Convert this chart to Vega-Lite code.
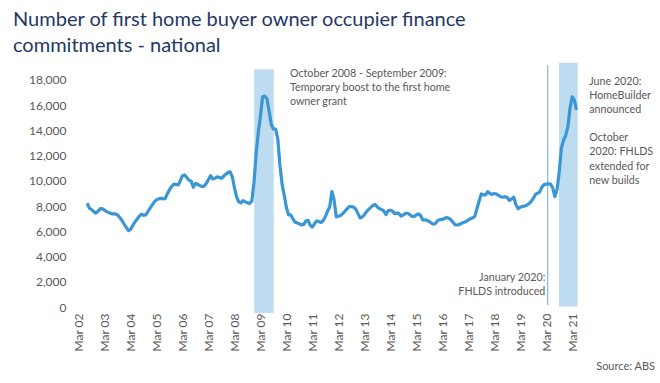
{
  "$schema": "https://vega.github.io/schema/vega-lite/v6.json",
  "width": 513,
  "height": 240,
  "autosize": {"type": "none"},
  "padding": {"left": 70, "top": 69, "right": 77, "bottom": 74},
  "background": "white",
  "data": {"values": [{}]},
  "config": {
    "view": {"stroke": null},
    "font": "Lato",
    "axis": {"grid": false, "domain": false, "ticks": false, "labelFont": "Lato", "labelFontSize": 12, "labelColor": "#595959", "labelOverlap": false}
  },
  "title": {
    "text": ["Number of first home buyer owner occupier finance", "commitments - national"],
    "anchor": "start",
    "frame": "group",
    "dx": -57,
    "offset": 7,
    "font": "Lato",
    "fontSize": 20,
    "fontWeight": "normal",
    "color": "#1F3864",
    "lineHeight": 25.5
  },
  "datasets": {
    "fhb": [
      {"date": "2002-07-01", "value": 8220}, {"date": "2002-08-01", "value": 7830}, {"date": "2002-09-01", "value": 7720}, {"date": "2002-10-01", "value": 7560}, {"date": "2002-11-01", "value": 7440}, {"date": "2002-12-01", "value": 7600},
      {"date": "2003-01-01", "value": 7800}, {"date": "2003-02-01", "value": 7780}, {"date": "2003-03-01", "value": 7680}, {"date": "2003-04-01", "value": 7560}, {"date": "2003-05-01", "value": 7480}, {"date": "2003-06-01", "value": 7400}, {"date": "2003-07-01", "value": 7375}, {"date": "2003-08-01", "value": 7375}, {"date": "2003-09-01", "value": 7290}, {"date": "2003-10-01", "value": 7090}, {"date": "2003-11-01", "value": 6870}, {"date": "2003-12-01", "value": 6580},
      {"date": "2004-01-01", "value": 6300}, {"date": "2004-02-01", "value": 6050}, {"date": "2004-03-01", "value": 6150}, {"date": "2004-04-01", "value": 6460}, {"date": "2004-05-01", "value": 6740}, {"date": "2004-06-01", "value": 6960}, {"date": "2004-07-01", "value": 7190}, {"date": "2004-08-01", "value": 7360}, {"date": "2004-09-01", "value": 7270}, {"date": "2004-10-01", "value": 7300}, {"date": "2004-11-01", "value": 7560}, {"date": "2004-12-01", "value": 7830},
      {"date": "2005-01-01", "value": 8090}, {"date": "2005-02-01", "value": 8350}, {"date": "2005-03-01", "value": 8490}, {"date": "2005-04-01", "value": 8570}, {"date": "2005-05-01", "value": 8610}, {"date": "2005-06-01", "value": 8570}, {"date": "2005-07-01", "value": 8580}, {"date": "2005-08-01", "value": 8980}, {"date": "2005-09-01", "value": 9300}, {"date": "2005-10-01", "value": 9550}, {"date": "2005-11-01", "value": 9740}, {"date": "2005-12-01", "value": 9710},
      {"date": "2006-01-01", "value": 9680}, {"date": "2006-02-01", "value": 10030}, {"date": "2006-03-01", "value": 10400}, {"date": "2006-04-01", "value": 10460}, {"date": "2006-05-01", "value": 10260}, {"date": "2006-06-01", "value": 10050}, {"date": "2006-07-01", "value": 9970}, {"date": "2006-08-01", "value": 9490}, {"date": "2006-09-01", "value": 9790}, {"date": "2006-10-01", "value": 9720}, {"date": "2006-11-01", "value": 9620}, {"date": "2006-12-01", "value": 9540},
      {"date": "2007-01-01", "value": 9580}, {"date": "2007-02-01", "value": 9800}, {"date": "2007-03-01", "value": 10100}, {"date": "2007-04-01", "value": 10400}, {"date": "2007-05-01", "value": 10150}, {"date": "2007-06-01", "value": 10200}, {"date": "2007-07-01", "value": 10310}, {"date": "2007-08-01", "value": 10260}, {"date": "2007-09-01", "value": 10200}, {"date": "2007-10-01", "value": 10360}, {"date": "2007-11-01", "value": 10530}, {"date": "2007-12-01", "value": 10650},
      {"date": "2008-01-01", "value": 10710}, {"date": "2008-02-01", "value": 10300}, {"date": "2008-03-01", "value": 9450}, {"date": "2008-04-01", "value": 8700}, {"date": "2008-05-01", "value": 8340}, {"date": "2008-06-01", "value": 8260}, {"date": "2008-07-01", "value": 8430}, {"date": "2008-08-01", "value": 8330}, {"date": "2008-09-01", "value": 8250}, {"date": "2008-10-01", "value": 8210}, {"date": "2008-11-01", "value": 8400}, {"date": "2008-12-01", "value": 9870},
      {"date": "2009-01-01", "value": 12200}, {"date": "2009-02-01", "value": 13900}, {"date": "2009-03-01", "value": 15100}, {"date": "2009-04-01", "value": 16650}, {"date": "2009-05-01", "value": 16700}, {"date": "2009-06-01", "value": 16500}, {"date": "2009-07-01", "value": 15540}, {"date": "2009-08-01", "value": 14460}, {"date": "2009-09-01", "value": 14100}, {"date": "2009-10-01", "value": 14100}, {"date": "2009-11-01", "value": 13300}, {"date": "2009-12-01", "value": 11200},
      {"date": "2010-01-01", "value": 9700}, {"date": "2010-02-01", "value": 8800}, {"date": "2010-03-01", "value": 7900}, {"date": "2010-04-01", "value": 7300}, {"date": "2010-05-01", "value": 7300}, {"date": "2010-06-01", "value": 7000}, {"date": "2010-07-01", "value": 6720}, {"date": "2010-08-01", "value": 6670}, {"date": "2010-09-01", "value": 6590}, {"date": "2010-10-01", "value": 6500}, {"date": "2010-11-01", "value": 6550}, {"date": "2010-12-01", "value": 6830},
      {"date": "2011-01-01", "value": 6860}, {"date": "2011-02-01", "value": 6480}, {"date": "2011-03-01", "value": 6340}, {"date": "2011-04-01", "value": 6600}, {"date": "2011-05-01", "value": 6830}, {"date": "2011-06-01", "value": 6770}, {"date": "2011-07-01", "value": 6700}, {"date": "2011-08-01", "value": 6860}, {"date": "2011-09-01", "value": 7170}, {"date": "2011-10-01", "value": 7600}, {"date": "2011-11-01", "value": 7950}, {"date": "2011-12-01", "value": 9150},
      {"date": "2012-01-01", "value": 8480}, {"date": "2012-02-01", "value": 7150}, {"date": "2012-03-01", "value": 7200}, {"date": "2012-04-01", "value": 7260}, {"date": "2012-05-01", "value": 7400}, {"date": "2012-06-01", "value": 7590}, {"date": "2012-07-01", "value": 7770}, {"date": "2012-08-01", "value": 7950}, {"date": "2012-09-01", "value": 7950}, {"date": "2012-10-01", "value": 7920}, {"date": "2012-11-01", "value": 7750}, {"date": "2012-12-01", "value": 7420},
      {"date": "2013-01-01", "value": 7060}, {"date": "2013-02-01", "value": 7130}, {"date": "2013-03-01", "value": 7310}, {"date": "2013-04-01", "value": 7560}, {"date": "2013-05-01", "value": 7740}, {"date": "2013-06-01", "value": 7900}, {"date": "2013-07-01", "value": 8050}, {"date": "2013-08-01", "value": 8130}, {"date": "2013-09-01", "value": 7920}, {"date": "2013-10-01", "value": 7790}, {"date": "2013-11-01", "value": 7730}, {"date": "2013-12-01", "value": 7600},
      {"date": "2014-01-01", "value": 7330}, {"date": "2014-02-01", "value": 7640}, {"date": "2014-03-01", "value": 7670}, {"date": "2014-04-01", "value": 7600}, {"date": "2014-05-01", "value": 7400}, {"date": "2014-06-01", "value": 7440}, {"date": "2014-07-01", "value": 7400}, {"date": "2014-08-01", "value": 7200}, {"date": "2014-09-01", "value": 7300}, {"date": "2014-10-01", "value": 7430}, {"date": "2014-11-01", "value": 7430}, {"date": "2014-12-01", "value": 7320},
      {"date": "2015-01-01", "value": 7180}, {"date": "2015-02-01", "value": 7180}, {"date": "2015-03-01", "value": 7290}, {"date": "2015-04-01", "value": 7380}, {"date": "2015-05-01", "value": 7260}, {"date": "2015-06-01", "value": 6900}, {"date": "2015-07-01", "value": 6900}, {"date": "2015-08-01", "value": 6870}, {"date": "2015-09-01", "value": 6780}, {"date": "2015-10-01", "value": 6650}, {"date": "2015-11-01", "value": 6560}, {"date": "2015-12-01", "value": 6650},
      {"date": "2016-01-01", "value": 6880}, {"date": "2016-02-01", "value": 6920}, {"date": "2016-03-01", "value": 6940}, {"date": "2016-04-01", "value": 7010}, {"date": "2016-05-01", "value": 7100}, {"date": "2016-06-01", "value": 7030}, {"date": "2016-07-01", "value": 6920}, {"date": "2016-08-01", "value": 6700}, {"date": "2016-09-01", "value": 6500}, {"date": "2016-10-01", "value": 6500}, {"date": "2016-11-01", "value": 6560}, {"date": "2016-12-01", "value": 6640},
      {"date": "2017-01-01", "value": 6720}, {"date": "2017-02-01", "value": 6780}, {"date": "2017-03-01", "value": 6900}, {"date": "2017-04-01", "value": 6990}, {"date": "2017-05-01", "value": 7070}, {"date": "2017-06-01", "value": 7160}, {"date": "2017-07-01", "value": 7780}, {"date": "2017-08-01", "value": 8400}, {"date": "2017-09-01", "value": 8960}, {"date": "2017-10-01", "value": 8890}, {"date": "2017-11-01", "value": 8880}, {"date": "2017-12-01", "value": 9140},
      {"date": "2018-01-01", "value": 8990}, {"date": "2018-02-01", "value": 8920}, {"date": "2018-03-01", "value": 9000}, {"date": "2018-04-01", "value": 8950}, {"date": "2018-05-01", "value": 8850}, {"date": "2018-06-01", "value": 8740}, {"date": "2018-07-01", "value": 8710}, {"date": "2018-08-01", "value": 8740}, {"date": "2018-09-01", "value": 8680}, {"date": "2018-10-01", "value": 8440}, {"date": "2018-11-01", "value": 8560}, {"date": "2018-12-01", "value": 8710},
      {"date": "2019-01-01", "value": 8100}, {"date": "2019-02-01", "value": 7800}, {"date": "2019-03-01", "value": 7900}, {"date": "2019-04-01", "value": 7970}, {"date": "2019-05-01", "value": 8000}, {"date": "2019-06-01", "value": 8060}, {"date": "2019-07-01", "value": 8180}, {"date": "2019-08-01", "value": 8350}, {"date": "2019-09-01", "value": 8600}, {"date": "2019-10-01", "value": 8920}, {"date": "2019-11-01", "value": 9010}, {"date": "2019-12-01", "value": 9120},
      {"date": "2020-01-01", "value": 9500}, {"date": "2020-02-01", "value": 9700}, {"date": "2020-03-01", "value": 9740}, {"date": "2020-04-01", "value": 9750}, {"date": "2020-05-01", "value": 9750}, {"date": "2020-06-01", "value": 9450}, {"date": "2020-07-01", "value": 8750}, {"date": "2020-08-01", "value": 9300}, {"date": "2020-09-01", "value": 10700}, {"date": "2020-10-01", "value": 12585}, {"date": "2020-11-01", "value": 13230}, {"date": "2020-12-01", "value": 13600},
      {"date": "2021-01-01", "value": 14300}, {"date": "2021-02-01", "value": 15800}, {"date": "2021-03-01", "value": 16650}, {"date": "2021-04-01", "value": 16400}, {"date": "2021-05-01", "value": 15620}
    ]
  },
  "layer": [
    {
      "mark": {"type": "rect", "color": "#BDDCF0"},
      "encoding": {
        "x": {"datum": {"year": 2008, "month": 12, "date": 5, "utc": true}, "type": "temporal", "title": null},
        "x2": {"datum": {"year": 2009, "month": 9, "date": 4, "utc": true}},
        "y": {"datum": 18826, "type": "quantitative", "title": null},
        "y2": {"datum": -467}
      }
    },
    {
      "mark": {"type": "rect", "color": "#BDDCF0"},
      "encoding": {
        "x": {"datum": {"year": 2020, "month": 8, "date": 28, "utc": true}, "type": "temporal", "title": null},
        "x2": {"datum": {"year": 2021, "month": 5, "date": 18, "utc": true}},
        "y": {"datum": 19348, "type": "quantitative", "title": null},
        "y2": {"datum": 47}
      }
    },
    {
      "mark": {"type": "rule", "color": "#6FA8DC", "strokeWidth": 1},
      "encoding": {
        "x": {"datum": {"year": 2020, "month": 3, "date": 23, "utc": true}, "type": "temporal", "title": null},
        "y": {"datum": 19161, "type": "quantitative", "title": null},
        "y2": {"datum": 166}
      }
    },
    {
      "data": {"name": "fhb"},
      "mark": {"type": "line", "color": "#3A96D4", "strokeWidth": 3.2, "strokeJoin": "round"},
      "encoding": {
        "x": {
          "field": "date",
          "type": "temporal",
          "title": null,
          "scale": {"type": "utc", "domain": [{"year": 2001, "month": 11, "date": 1, "utc": true}, {"year": 2021, "month": 8, "date": 1, "utc": true}]},
          "axis": {
            "format": "%b %y",
            "labelAngle": 270,
            "labelAlign": "right",
            "labelBaseline": "middle",
            "labelPadding": 4,
            "labelOverlap": false,
            "tickCount": 40,
            "values": [
              {"year": 2002, "month": 3, "date": 1, "utc": true}, {"year": 2003, "month": 3, "date": 1, "utc": true}, {"year": 2004, "month": 3, "date": 1, "utc": true}, {"year": 2005, "month": 3, "date": 1, "utc": true},
              {"year": 2006, "month": 3, "date": 1, "utc": true}, {"year": 2007, "month": 3, "date": 1, "utc": true}, {"year": 2008, "month": 3, "date": 1, "utc": true}, {"year": 2009, "month": 3, "date": 1, "utc": true},
              {"year": 2010, "month": 3, "date": 1, "utc": true}, {"year": 2011, "month": 3, "date": 1, "utc": true}, {"year": 2012, "month": 3, "date": 1, "utc": true}, {"year": 2013, "month": 3, "date": 1, "utc": true},
              {"year": 2014, "month": 3, "date": 1, "utc": true}, {"year": 2015, "month": 3, "date": 1, "utc": true}, {"year": 2016, "month": 3, "date": 1, "utc": true}, {"year": 2017, "month": 3, "date": 1, "utc": true},
              {"year": 2018, "month": 3, "date": 1, "utc": true}, {"year": 2019, "month": 3, "date": 1, "utc": true}, {"year": 2020, "month": 3, "date": 1, "utc": true}, {"year": 2021, "month": 3, "date": 1, "utc": true}
            ]
          }
        },
        "y": {
          "field": "value",
          "type": "quantitative",
          "title": null,
          "scale": {"domain": [-150, 18850], "nice": false, "zero": false},
          "axis": {"values": [0, 2000, 4000, 6000, 8000, 10000, 12000, 14000, 16000, 18000], "format": ",d", "labelPadding": 4, "labelOverlap": false, "tickCount": 20}
        }
      }
    },
    {
      "mark": {"type": "text", "text": ["October 2008 - September 2009:", "Temporary boost to the first home", "owner grant"], "align": "left", "baseline": "top", "font": "Lato", "fontSize": 10.7, "lineHeight": 14.3, "color": "#595959"},
      "encoding": {
        "x": {"datum": {"year": 2010, "month": 4, "date": 21, "utc": true}, "type": "temporal", "title": null},
        "y": {"datum": 18880, "type": "quantitative", "title": null}
      }
    },
    {
      "mark": {"type": "text", "text": ["June 2020:", "HomeBuilder", "announced"], "align": "left", "baseline": "top", "font": "Lato", "fontSize": 10.7, "lineHeight": 14.2, "color": "#595959"},
      "encoding": {
        "x": {"datum": {"year": 2021, "month": 10, "date": 28, "utc": true}, "type": "temporal", "title": null},
        "y": {"datum": 18250, "type": "quantitative", "title": null}
      }
    },
    {
      "mark": {"type": "text", "text": ["October", "2020: FHLDS", "extended for", "new builds"], "align": "left", "baseline": "top", "font": "Lato", "fontSize": 10.7, "lineHeight": 14.2, "color": "#595959"},
      "encoding": {
        "x": {"datum": {"year": 2021, "month": 10, "date": 28, "utc": true}, "type": "temporal", "title": null},
        "y": {"datum": 13760, "type": "quantitative", "title": null}
      }
    },
    {
      "mark": {"type": "text", "text": ["January 2020:", "FHLDS introduced"], "align": "right", "baseline": "top", "font": "Lato", "fontSize": 10.7, "lineHeight": 14, "color": "#595959"},
      "encoding": {
        "x": {"datum": {"year": 2020, "month": 2, "date": 18, "utc": true}, "type": "temporal", "title": null},
        "y": {"datum": 2685, "type": "quantitative", "title": null}
      }
    },
    {
      "mark": {"type": "text", "text": "Source: ABS", "align": "right", "baseline": "top", "font": "Lato", "fontSize": 11, "color": "#595959"},
      "encoding": {
        "x": {"datum": {"year": 2024, "month": 5, "date": 9, "utc": true}, "type": "temporal", "title": null},
        "y": {"datum": -4230, "type": "quantitative", "title": null}
      }
    }
  ]
}
